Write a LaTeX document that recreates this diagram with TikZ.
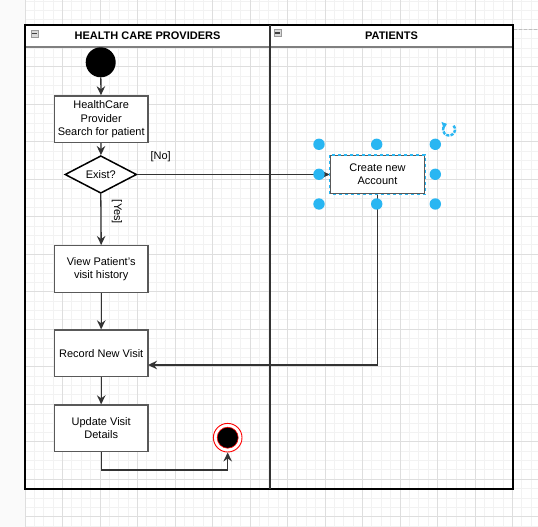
\documentclass[tikz,border=0pt]{standalone}
\usepackage{fontspec}
\setmainfont{Liberation Sans}
\usetikzlibrary{arrows.meta,shapes.geometric}
\definecolor{selblue}{HTML}{29B6F2}
\definecolor{gridminor}{HTML}{F2F2F2}
\definecolor{gridmajor}{HTML}{DEDEDE}
\def\selhandle(#1){\fill[selblue] (#1) circle (5.7);}
\def\lanetoggle(#1){\draw[black!40, fill=black!15] (#1) ++(-3.7,-3.7) rectangle ++(7.4,7.4); \draw[black!75, line width=1.4] (#1) ++(-2.5,0) -- ++(5,0);}

\begin{document}
\begin{tikzpicture}[x=1pt, y=-1pt,
	act/.style={draw=black!65, line width=1.3, fill=white, minimum width=93.7, minimum height=46.7, inner sep=1, align=center, font=\fontsize{11}{13.2}\selectfont},
	flow/.style={draw=black!80, line width=1.3, -{Stealth[length=9, width=8.5, inset=3]}},
	lbl/.style={font=\fontsize{11}{13.2}\selectfont, inner sep=0}]
			%%%%% START %%%%%
			
			\useasboundingbox (0,0) rectangle (538,527);
			\fill[white] (0,0) rectangle (538,527);
			\fill[black!2] (0,0) rectangle (25,527);
			\draw[black!10] (25,0) -- (25,527);
			
			\foreach \k in {0,...,54} \draw[gridminor, line width=0.8] ({25+9.375*\k},0) -- ({25+9.375*\k},527);
			\foreach \k in {-1,...,55} \draw[gridminor, line width=0.8] (25,{516.7-9.375*\k}) -- (538,{516.7-9.375*\k});
			\foreach \k in {0,...,13} \draw[gridmajor, line width=0.8] ({25+37.5*\k},0) -- ({25+37.5*\k},527);
			\foreach \k in {0,...,13} \draw[gridmajor, line width=0.8] (25,{516.7-37.5*\k}) -- (538,{516.7-37.5*\k});
			\draw[black!25, line width=1, dash pattern=on 3 off 2] (514,30) -- (538,30);
			
			\fill[white] (25,25) rectangle (513,46.7);
			\draw[black!50, line width=2] (25,46.7) -- (513,46.7);
			\draw[black, line width=1.5] (25,25) rectangle (513,489);
			\draw[black!80, line width=1.8] (270,25) -- (270,489);
			\lanetoggle(34.5,33.5)
			\lanetoggle(277.5,33)
			\node[font=\fontsize{11}{13}\selectfont\bfseries] (provlane) at (147.5,36) {HEALTH CARE PROVIDERS};
			\node[font=\fontsize{11}{13}\selectfont\bfseries] (patlane) at (391.5,36) {PATIENTS};
			
			\node[circle, fill=black, minimum size=30, inner sep=0] (start) at (100.7,62.3) {};
			\node[act] (search) at (101.2,119.2) {HealthCare\\Provider\\Search for patient};
			\node[diamond, draw=black, line width=1.5, fill=white, aspect=1.9, inner sep=0, minimum width=71.7, minimum height=37.6, font=\fontsize{11}{13.2}\selectfont] (exist) at (100.8,174.5) {Exist?};
			\node[act] (history) at (101.2,269) {View Patient's\\visit history};
			\node[act] (record) at (101.2,353.3) {Record New Visit};
			\node[act] (update) at (101.2,428.3) {Update Visit\\Details};
			\node[act, minimum width=94.4, minimum height=38] (create) at (377.5,174.5) {Create new\\Account};
			\node[circle, draw=red, fill=white, line width=0.9, minimum size=28.6, inner sep=0] (final) at (227.7,437.7) {};
			\node[circle, draw=red, fill=black, line width=0.6, minimum size=21, inner sep=0] (finaldot) at (final) {};
			
			\coordinate (recin) at (148,365);
			\coordinate (endturn) at (227.7,470);
			
			\draw[flow] (start) -- (search);
			\draw[flow] (search) -- (exist);
			\draw[flow] (exist.east) -- (create.west);
			\draw[flow] (exist.south) -- (history.north);
			\draw[flow] (history) -- (record);
			\draw[flow] (record) -- (update);
			\draw[flow] (create.south) |- (recin);
			\draw[flow] (update.south) |- (endturn) -- (final.south);
			
			\node[lbl] (nolbl) at (160.7,156.7) {[No]};
			\node[lbl, rotate=-90] (yeslbl) at (117,212) {[Yes]};
			
			\draw[selblue, line width=1.3, dash pattern=on 3 off 3] (create.south west) rectangle (create.north east);
			\selhandle(319,144.3)
			\selhandle(376.7,144.3)
			\selhandle(435.3,144.3)
			\selhandle(319,174.3)
			\selhandle(435.3,174.3)
			\selhandle(319,204)
			\selhandle(376.7,204)
			\selhandle(435.3,204)
			\draw[selblue, line width=2.4, dash pattern=on 3.2 off 1.2, -{Triangle[length=4.5, width=7]}] (449,129.5) ++(-40:6) arc (-40:250:6);
			
			%%%%% END %%%%%
\end{tikzpicture}
\end{document}
